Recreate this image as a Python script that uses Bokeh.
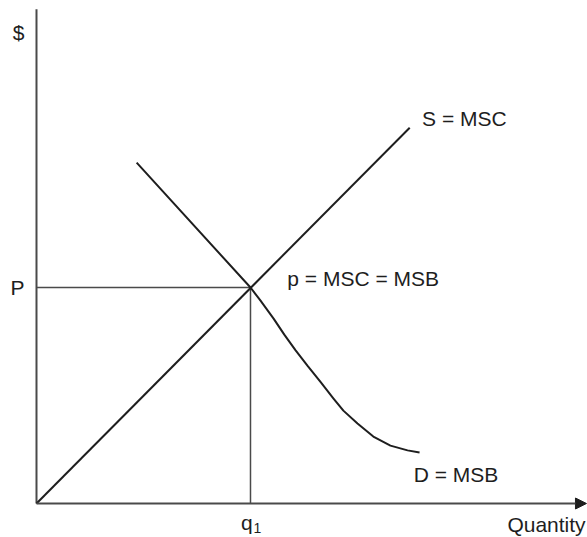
from bokeh.plotting import figure
from bokeh.models import Range1d, Arrow, NormalHead
from bokeh.core.properties import value
from bokeh.embed import file_html
from bokeh.resources import INLINE

# ---- data (in chart units) ----
supply_q = [0.0, 8.72]
supply_p = [0.0, 8.70]

demand_q = [2.34, 5.00, 5.23, 5.54, 5.79, 6.05, 6.33, 6.64, 6.94, 7.17, 7.50, 7.87, 8.27, 8.67, 8.95]
demand_p = [7.89, 5.00, 4.70, 4.28, 3.91, 3.55, 3.19, 2.81, 2.43, 2.15, 1.85, 1.55, 1.34, 1.23, 1.18]

q1 = 5.0
P = 5.0

x_axis_end = 12.85
y_axis_end = 11.44

labels = ["$", "P", "q", "1", "Quantity", "S = MSC", "p = MSC = MSB", "D = MSB"]

# ---- figure ----
X0, X1 = -0.841, 12.874
Y0, Y1 = -0.787, 11.644

p = figure(width=587, height=537, x_range=Range1d(X0, X1), y_range=Range1d(Y0, Y1),
           output_backend="svg", toolbar_location=None,
           x_axis_location=None, y_axis_location=None,
           min_border=0, min_border_left=0, min_border_right=0,
           min_border_top=0, min_border_bottom=0)
p.outline_line_color = None
p.grid.visible = False
p.background_fill_color = "white"
p.border_fill_color = "white"

AXIS_COLOR = "#4a4a4a"
CURVE_COLOR = "#1e1e1e"

# axes
p.line([0, 0], [0, y_axis_end], line_color=AXIS_COLOR, line_width=2)
p.add_layout(Arrow(end=NormalHead(size=11, fill_color=CURVE_COLOR, line_color=CURVE_COLOR, line_width=1),
                   x_start=0, y_start=0, x_end=x_axis_end, y_end=0,
                   line_color=AXIS_COLOR, line_width=2))

# guide lines at equilibrium
p.line([0, q1], [P, P], line_color=AXIS_COLOR, line_width=1.5)
p.line([q1, q1], [0, P], line_color=AXIS_COLOR, line_width=1.5)

# supply and demand
p.line(supply_q, supply_p, line_color=CURVE_COLOR, line_width=2)
p.line(demand_q, demand_p, line_color=CURVE_COLOR, line_width=2, line_join="round")

FONT = value("Liberation Sans")

def txt(x, y, s, align="left", size="21px"):
    p.text(x=[x], y=[y], text=[s], text_font=FONT, text_font_size=size,
           text_color=CURVE_COLOR, text_align=align, text_baseline="alphabetic")

txt(-0.42, 10.91, labels[0], align="center")
txt(-0.61, 4.99, labels[1])
txt(4.78, -0.45, labels[2])
txt(5.07, -0.56, labels[3], size="14px")
txt(12.83, -0.49, labels[4], align="right")
txt(9.01, 8.91, labels[5])
txt(5.86, 5.22, labels[6])
txt(10.79, 0.66, labels[7], align="right")

open("out.html", "w").write(file_html(p, INLINE))
